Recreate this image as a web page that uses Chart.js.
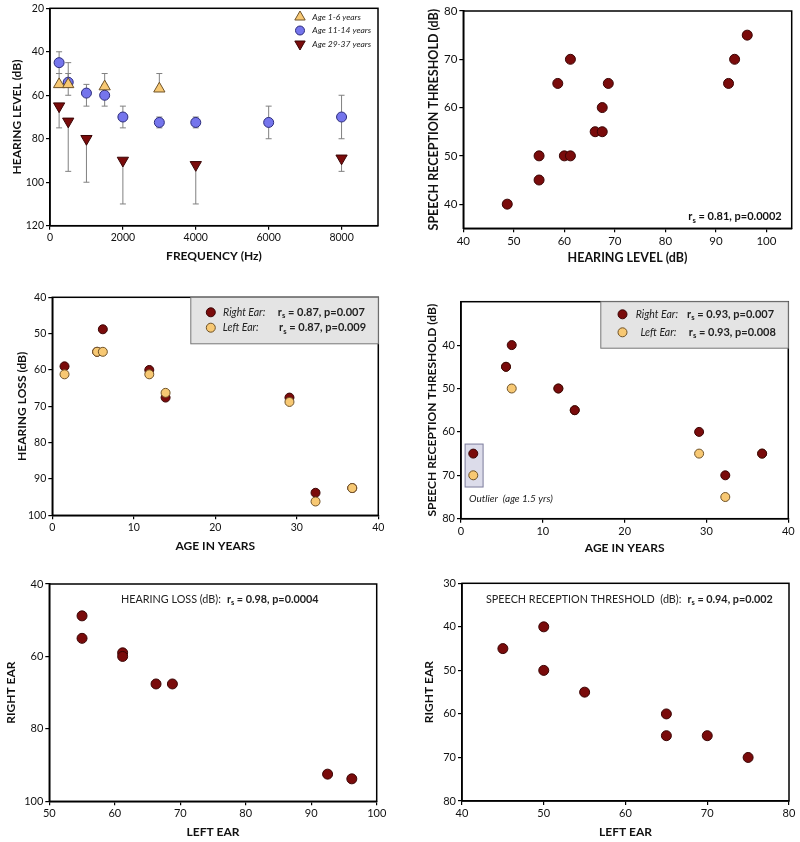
<!DOCTYPE html>
<html>
<head>
<meta charset="utf-8">
<script src="https://cdn.jsdelivr.net/npm/chart.js@4.4.0/dist/chart.umd.min.js"></script>
<style>
  body { margin: 0; background: #fff; }
  #wrap { position: relative; width: 800px; height: 842px; }
  canvas { position: absolute; }
</style>
</head>
<body>
<div id="wrap">
  <canvas id="c1"></canvas>
  <canvas id="c2"></canvas>
  <canvas id="c3"></canvas>
  <canvas id="c4"></canvas>
  <canvas id="c5"></canvas>
  <canvas id="c6"></canvas>
</div>
<script>
// --- Data: audiogram by age group ---
const freqYoung = [250, 500, 1500, 3000];
const levelYoung = [55, 55, 56, 57];
const errTopYoung = [50, 50, 50, 50];

const freqMid = [250, 500, 1000, 1500, 2000, 3000, 4000, 6000, 8000];
const levelMid = [45, 54, 59, 60, 70, 72.5, 72.5, 72.5, 70];
const errTopMid = [40, 45, 55, 55, 65, 70, 70, 65, 60];
const errBotMid = [50, 60, 65, 65, 75, 75, 75, 80, 80];

const freqOld = [250, 500, 1000, 2000, 4000, 8000];
const levelOld = [65, 72, 80, 90, 92, 89];
const errBotOld = [75, 95, 100, 110, 110, 95];

// --- Data: hearing level vs speech reception threshold ---
const hearingLevel = [48.7, 55, 55, 60, 61.2, 58.7, 61.2, 66.1, 67.5, 67.5, 68.7, 92.5, 93.7, 96.2];
const srtAll = [40, 45, 50, 50, 50, 65, 70, 55, 55, 60, 65, 65, 70, 75];

// --- Data: per subject, right and left ear ---
const ages = [1.5, 5.5, 6.2, 11.9, 13.9, 29.1, 32.3, 36.8];
const lossRight = [59, 55, 48.8, 60, 67.6, 67.6, 93.8, 92.5];
const lossLeft = [61.2, 55, 55, 61.2, 66.3, 68.8, 96.2, 92.5];
const srtRight = [65, 45, 40, 50, 55, 60, 70, 65];
const srtLeft = [70, 45, 50, 50, 55, 65, 75, 65];

// --- Styles ---
const FONT = 'Lato, "Open Sans", sans-serif';
const RED = '#7a0b0b', RED_EDGE = '#3a0505';
const YELLOW = '#f7c873', YELLOW_EDGE = '#6e5228';
const BLUE = '#7575ec', BLUE_EDGE = '#2c2c7c';

function pts(xs, ys) {
    return xs.map((x, i) => ({ x: x, y: ys[i] }));
}

function dots(data, fill, edge, extra) {
    return Object.assign({
        data: data,
        backgroundColor: fill,
        borderColor: edge,
        borderWidth: 1,
        pointRadius: 4.5,
        pointHoverRadius: 4.5
    }, extra || {});
}

// r with subscript s, then the rest; returns end x
function drawRs(ctx, x, y, rest, size) {
    ctx.textBaseline = 'middle';
    ctx.textAlign = 'left';
    ctx.font = `bold ${size}px ${FONT}`;
    ctx.fillText('r', x, y);
    let w = ctx.measureText('r').width;
    ctx.font = `bold ${size * 0.7}px ${FONT}`;
    ctx.fillText('s', x + w, y + size * 0.32);
    w += ctx.measureText('s').width;
    ctx.font = `bold ${size}px ${FONT}`;
    ctx.fillText(rest, x + w, y);
    return x + w + ctx.measureText(rest).width;
}

function rsWidth(ctx, rest, size) {
    ctx.font = `bold ${size}px ${FONT}`;
    let w = ctx.measureText('r').width + ctx.measureText(rest).width;
    ctx.font = `bold ${size * 0.7}px ${FONT}`;
    return w + ctx.measureText('s').width;
}

const framePlugin = {
    id: 'frame',
    afterDatasetsDraw(chart) {
        const { ctx, chartArea: a } = chart;
        ctx.save();
        ctx.strokeStyle = '#000';
        ctx.lineWidth = 1.5;
        ctx.strokeRect(a.left, a.top, a.right - a.left, a.bottom - a.top);
        ctx.restore();
    }
};

const errorBars = {
    id: 'errorBars',
    beforeDatasetsDraw(chart) {
        const { ctx, scales: { x, y } } = chart;
        ctx.save();
        ctx.strokeStyle = '#808080';
        ctx.lineWidth = 1;
        chart.data.datasets.forEach(ds => {
            ds.data.forEach((p, i) => {
                const top = ds.errTop ? ds.errTop[i] : p.y;
                const bot = ds.errBot ? ds.errBot[i] : p.y;
                const px = x.getPixelForValue(p.x);
                const y1 = y.getPixelForValue(top);
                const y2 = y.getPixelForValue(bot);
                ctx.beginPath();
                ctx.moveTo(px, y1);
                ctx.lineTo(px, y2);
                if (ds.errTop) { ctx.moveTo(px - 3, y1); ctx.lineTo(px + 3, y1); }
                if (ds.errBot) { ctx.moveTo(px - 3, y2); ctx.lineTo(px + 3, y2); }
                ctx.stroke();
            });
        });
        ctx.restore();
    }
};

const ageLegend = {
    id: 'ageLegend',
    afterDatasetsDraw(chart) {
        const { ctx, chartArea: a } = chart;
        const rows = [
            ['Age 1-6 years', 'triangle', 0, YELLOW, YELLOW_EDGE],
            ['Age 11-14 years', 'circle', 0, BLUE, BLUE_EDGE],
            ['Age 29-37 years', 'triangle', 180, RED, RED_EDGE]
        ];
        ctx.save();
        rows.forEach((r, i) => {
            const y = a.top + 8.7 + i * 13.5;
            ctx.fillStyle = r[3];
            ctx.strokeStyle = r[4];
            ctx.lineWidth = 1;
            Chart.helpers.drawPoint(ctx, { pointStyle: r[1], radius: r[1] === 'circle' ? 4.5 : 6, rotation: r[2], borderWidth: 1 }, a.right - 78, y);
            ctx.fillStyle = '#222';
            ctx.font = `italic 8.5px ${FONT}`;
            ctx.textAlign = 'left';
            ctx.textBaseline = 'middle';
            ctx.fillText(r[0], a.right - 65.7, y);
        });
        ctx.restore();
    }
};

function earLegend(rightText, leftText, pos) {
    return {
        id: 'earLegend',
        afterDatasetsDraw(chart) {
            const { ctx, chartArea: a } = chart;
            const bw = 187.5, bh = 46.5;
            const bx = a.right - bw, by = a.top;
            ctx.save();
            ctx.fillStyle = '#e4e4e4';
            ctx.strokeStyle = '#777';
            ctx.lineWidth = 1;
            ctx.fillRect(bx, by, bw, bh);
            ctx.strokeRect(bx, by, bw, bh);
            const rows = [
                ['Right Ear:', rightText, RED, RED_EDGE, pos.rowY[0], pos.label[0], pos.stat[0]],
                ['Left Ear:', leftText, YELLOW, YELLOW_EDGE, pos.rowY[1], pos.label[1], pos.stat[1]]
            ];
            rows.forEach(r => {
                const y = by + r[4];
                ctx.fillStyle = r[2];
                ctx.strokeStyle = r[3];
                Chart.helpers.drawPoint(ctx, { pointStyle: 'circle', radius: 4.5, borderWidth: 1 }, bx + pos.marker, y);
                ctx.fillStyle = '#222';
                ctx.font = `italic 10.5px ${FONT}`;
                ctx.textAlign = 'left';
                ctx.textBaseline = 'middle';
                ctx.fillText(r[0], bx + r[5], y);
                drawRs(ctx, bx + r[6], y, r[1], 11);
            });
            ctx.restore();
        }
    };
}

function makePanel(p) {
    const cv = document.getElementById(p.id);
    const [bx, by, bw, bh] = p.box;
    const [L, T, R, B] = p.area;
    cv.style.left = bx + 'px';
    cv.style.top = by + 'px';
    cv.width = bw;
    cv.height = bh;
    cv.style.width = bw + 'px';
    cv.style.height = bh + 'px';

    const ts = p.titleSize;
    const titleFont = { family: FONT, size: ts, weight: 'bold', lineHeight: 1 };
    const tickFont = { family: FONT, size: p.tickSize };
    const grid = { display: true, drawOnChartArea: false, drawTicks: true, tickLength: 4, color: '#000', lineWidth: 1.2 };
    const border = { display: true, color: '#000', width: 1.5 };

    return new Chart(cv, {
        type: 'scatter',
        data: { datasets: p.datasets },
        options: {
            responsive: false,
            animation: false,
            layout: { padding: { left: 0, top: T - by, right: bx + bw - R, bottom: 0 } },
            plugins: { legend: { display: false }, tooltip: { enabled: false } },
            scales: {
                x: {
                    type: 'linear',
                    min: p.x.min,
                    max: p.x.max,
                    afterBuildTicks: s => { s.ticks = p.x.ticks.map(v => ({ value: v })); },
                    afterFit: s => { s.height = by + bh - B; },
                    grid: grid,
                    border: border,
                    ticks: { color: '#111', font: tickFont, padding: 2, maxRotation: 0, autoSkip: false,
                        callback: v => String(v) },
                    title: { display: true, text: p.x.title, color: '#111', font: titleFont,
                        padding: { top: 0, bottom: by + bh - p.xTitleY - ts / 2 } }
                },
                y: {
                    type: 'linear',
                    min: p.y.min,
                    max: p.y.max,
                    reverse: p.y.reverse,
                    afterBuildTicks: s => { s.ticks = p.y.ticks.map(v => ({ value: v })); },
                    afterFit: s => { s.width = L - bx; },
                    grid: grid,
                    border: border,
                    ticks: { color: '#111', font: tickFont, padding: 2, autoSkip: false,
                        callback: v => String(v) },
                    title: { display: true, text: p.y.title, color: '#111', font: titleFont,
                        padding: { top: p.yTitleX - bx - ts / 2, bottom: 0 } }
                }
            }
        },
        plugins: [framePlugin].concat(p.plugins || [])
    });
}

// --- Panel 1: audiogram ---
makePanel({
    id: 'c1', box: [0, 0, 400, 275], area: [50, 7, 378, 225.7],
    xTitleY: 256, yTitleX: 17, titleSize: 12, tickSize: 10.5,
    x: { min: 0, max: 9000, ticks: [0, 2000, 4000, 6000, 8000], title: 'FREQUENCY (Hz)' },
    y: { min: 20, max: 120, reverse: true, ticks: [20, 40, 60, 80, 100, 120], title: 'HEARING LEVEL (dB)' },
    datasets: [
        dots(pts(freqYoung, levelYoung), YELLOW, YELLOW_EDGE, { pointStyle: 'triangle', pointRadius: 6.5, errTop: errTopYoung }),
        dots(pts(freqMid, levelMid), BLUE, BLUE_EDGE, { pointRadius: 5, errTop: errTopMid, errBot: errBotMid }),
        dots(pts(freqOld, levelOld), RED, RED_EDGE, { pointStyle: 'triangle', rotation: 180, pointRadius: 6.5, errBot: errBotOld })
    ],
    plugins: [errorBars, ageLegend]
});

// --- Panel 2: SRT vs hearing level ---
makePanel({
    id: 'c2', box: [400, 0, 400, 275], area: [463.3, 11, 791.7, 228.3],
    xTitleY: 258.3, yTitleX: 434.3, titleSize: 12.5, tickSize: 11.5,
    x: { min: 40, max: 105, ticks: [40, 50, 60, 70, 80, 90, 100], title: 'HEARING LEVEL (dB)' },
    y: { min: 35, max: 80, reverse: false, ticks: [40, 50, 60, 70, 80], title: 'SPEECH RECEPTION THRESHOLD (dB)' },
    datasets: [dots(pts(hearingLevel, srtAll), RED, RED_EDGE, { pointRadius: 5 })],
    plugins: [{
        id: 'stat2',
        afterDatasetsDraw(chart) {
            const { ctx, chartArea: a } = chart;
            ctx.save();
            ctx.fillStyle = '#111';
            const rest = ' = 0.81, p=0.0002';
            drawRs(ctx, a.right - 10 - rsWidth(ctx, rest, 11), a.bottom - 11.5, rest, 11);
            ctx.restore();
        }
    }]
});

// --- Panel 3: hearing loss vs age ---
makePanel({
    id: 'c3', box: [0, 275, 400, 285], area: [52.3, 297.3, 378.3, 515.3],
    xTitleY: 545.7, yTitleX: 21.7, titleSize: 12, tickSize: 10.5,
    x: { min: 0, max: 40, ticks: [0, 10, 20, 30, 40], title: 'AGE IN YEARS' },
    y: { min: 40, max: 100, reverse: true, ticks: [40, 50, 60, 70, 80, 90, 100], title: 'HEARING LOSS (dB)' },
    datasets: [
        dots(pts(ages, lossLeft), YELLOW, YELLOW_EDGE),
        dots(pts(ages, lossRight), RED, RED_EDGE)
    ],
    plugins: [earLegend(' = 0.87, p=0.007', ' = 0.87, p=0.009',
        { rowY: [15, 30.4], marker: 20, label: [32.3, 32], stat: [87, 88.3] })]
});

// --- Panel 4: SRT vs age ---
makePanel({
    id: 'c4', box: [400, 275, 400, 285], area: [461, 301.7, 788.3, 518.7],
    xTitleY: 548.3, yTitleX: 431.7, titleSize: 12, tickSize: 11,
    x: { min: 0, max: 40, ticks: [0, 10, 20, 30, 40], title: 'AGE IN YEARS' },
    y: { min: 30, max: 80, reverse: true, ticks: [40, 50, 60, 70, 80], title: 'SPEECH RECEPTION THRESHOLD (dB)' },
    datasets: [
        dots(pts(ages, srtRight), RED, RED_EDGE),
        dots(pts(ages, srtLeft), YELLOW, YELLOW_EDGE)
    ],
    plugins: [earLegend(' = 0.93, p=0.007', ' = 0.93, p=0.008',
        { rowY: [12.6, 30.6], marker: 21.7, label: [35, 39.7], stat: [86.3, 88] }),
    {
        id: 'outlier',
        beforeDatasetsDraw(chart) {
            const { ctx, scales: { x, y } } = chart;
            const x1 = x.getPixelForValue(0.5), x2 = x.getPixelForValue(2.7);
            const y1 = y.getPixelForValue(62.8), y2 = y.getPixelForValue(72.7);
            ctx.save();
            ctx.fillStyle = '#dcdcea';
            ctx.strokeStyle = '#7c7c9c';
            ctx.lineWidth = 1;
            ctx.fillRect(x1, y1, x2 - x1, y2 - y1);
            ctx.strokeRect(x1, y1, x2 - x1, y2 - y1);
            ctx.restore();
        },
        afterDatasetsDraw(chart) {
            const { ctx, chartArea: a } = chart;
            ctx.save();
            ctx.fillStyle = '#222';
            ctx.font = `italic 10px ${FONT}`;
            ctx.textAlign = 'left';
            ctx.textBaseline = 'middle';
            ctx.fillText('Outlier  (age 1.5 yrs)', a.left + 8, a.top + 196.6);
            ctx.restore();
        }
    }]
});

function topNote(label, rest, dx, dy, size) {
    return {
        id: 'note',
        afterDatasetsDraw(chart) {
            const { ctx, chartArea: a } = chart;
            ctx.save();
            ctx.fillStyle = '#222';
            ctx.font = `${size}px ${FONT}`;
            ctx.textAlign = 'left';
            ctx.textBaseline = 'middle';
            ctx.fillText(label, a.left + dx, a.top + dy);
            const w = ctx.measureText(label).width;
            drawRs(ctx, a.left + dx + w + 6, a.top + dy, rest, size);
            ctx.restore();
        }
    };
}

// --- Panel 5: hearing loss, right vs left ---
makePanel({
    id: 'c5', box: [0, 560, 400, 282], area: [49.3, 584, 376.7, 801.3],
    xTitleY: 831.7, yTitleX: 11, titleSize: 12, tickSize: 11,
    x: { min: 50, max: 100, ticks: [50, 60, 70, 80, 90, 100], title: 'LEFT EAR' },
    y: { min: 40, max: 100, reverse: true, ticks: [40, 60, 80, 100], title: 'RIGHT EAR' },
    datasets: [dots(pts(lossLeft, lossRight), RED, RED_EDGE, { pointRadius: 5 })],
    plugins: [topNote('HEARING LOSS (dB):', ' = 0.98, p=0.0004', 71.7, 15.3, 10.8)]
});

// --- Panel 6: SRT, right vs left ---
makePanel({
    id: 'c6', box: [400, 560, 400, 282], area: [462, 583.3, 789, 801],
    xTitleY: 831.7, yTitleX: 429.3, titleSize: 12, tickSize: 11,
    x: { min: 40, max: 80, ticks: [40, 50, 60, 70, 80], title: 'LEFT EAR' },
    y: { min: 30, max: 80, reverse: true, ticks: [30, 40, 50, 60, 70, 80], title: 'RIGHT EAR' },
    datasets: [dots(pts(srtLeft, srtRight), RED, RED_EDGE, { pointRadius: 5 })],
    plugins: [topNote('SPEECH RECEPTION THRESHOLD  (dB):', ' = 0.94, p=0.002', 24, 16, 10.8)]
});
</script>
</body>
</html>
